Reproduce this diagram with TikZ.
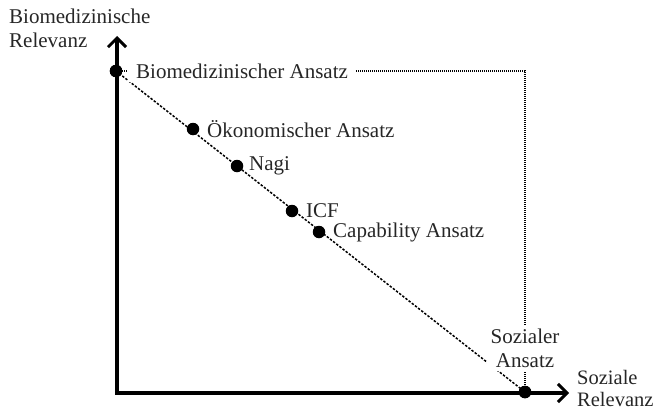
\documentclass[tikz,border=0pt]{standalone}
\usepackage{fontspec}
\setmainfont{Liberation Serif}
\usetikzlibrary{arrows.meta}
\begin{document}
\begin{tikzpicture}[x=1pt,y=-1pt,
  axis/.style={line width=3.4pt,-{Straight Barb[length=9pt,width=18pt,line width=3pt]}},
  pt/.style={circle,fill=black,inner sep=0pt,minimum size=12.5pt},
  lbl/.style={font=\fontsize{21}{24}\selectfont,text=black!85,inner sep=1pt},
  dotline/.style={line width=1.5pt,dash pattern=on 2.4pt off 1.6pt},
  guide/.style={line width=1.1pt,dash pattern=on 1pt off 1pt}]
\useasboundingbox (0,0) rectangle (658,412);
\coordinate (O) at (117,393);
\coordinate (ytip) at (117,36);
\coordinate (xtip) at (569,393);
\coordinate (corner) at (525,71);
\node[pt] (bio) at (116,71) {};
\node[pt] (oek) at (193,129) {};
\node[pt] (nagi) at (237,166) {};
\node[pt] (icf) at (292,211) {};
\node[pt] (cap) at (319,232) {};
\node[pt] (soz) at (525,392) {};
\draw[guide] (bio.center) -- (corner) -- (soz.center);
\draw[dotline] (bio.center) -- (soz.center);
\draw[axis] (O) -- (ytip);
\draw[axis] ([xshift=-1.7pt]O) -- (xtip);
\node[pt] at (bio) {};
\node[pt] at (soz) {};
\node[lbl,anchor=west,fill=white,inner xsep=8pt,inner ysep=4pt] (biol) at (128,71) {Biomedizinischer Ansatz};
\node[lbl,anchor=west] (oekl) at (206,129) {Ökonomischer Ansatz};
\node[lbl,anchor=west] (nagil) at (248,166) {Nagi};
\node[lbl,anchor=west] (icfl) at (305,211) {ICF};
\node[lbl,anchor=west] (capl) at (332,232) {Capability Ansatz};
\node[lbl,fill=white,align=center,inner ysep=4pt,inner xsep=4pt] (sozl) at (525,348) {Sozialer\\Ansatz};
\node[lbl,align=left,anchor=north west] (ylab) at (8,8) {Biomedizinische\\Relevanz};
\node[lbl,align=left,anchor=south west,font=\fontsize{20.5}{22}\selectfont] (xlab) at (576,408) {Soziale\\Relevanz};
\end{tikzpicture}
\end{document}
